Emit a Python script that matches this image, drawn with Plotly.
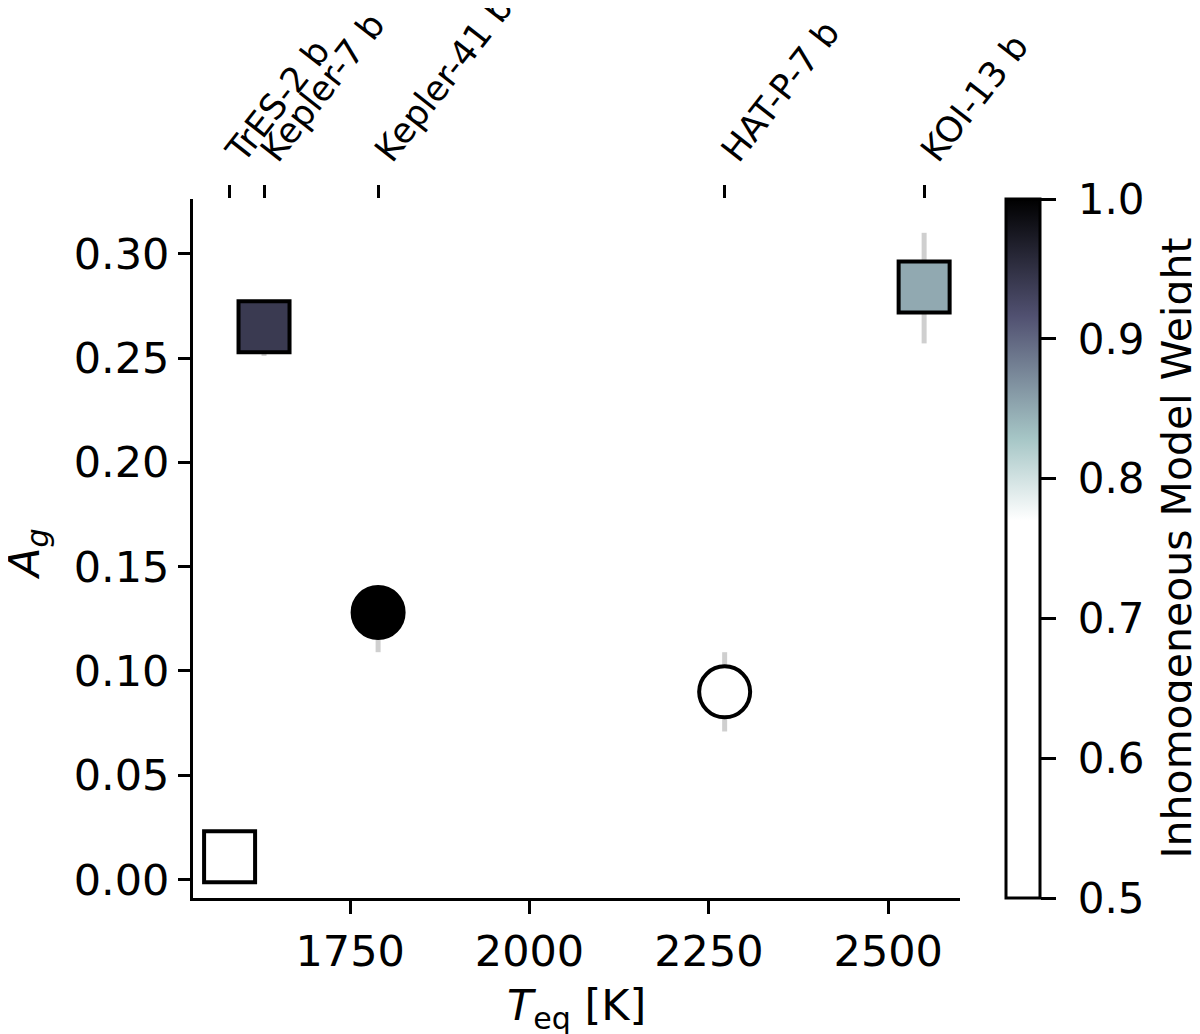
import plotly.graph_objects as go

planets = ["TrES-2 b", "Kepler-7 b", "Kepler-41 b", "HAT-P-7 b", "KOI-13 b"]
teq = [1582, 1630, 1789, 2272, 2550]
ag = [0.011, 0.265, 0.128, 0.090, 0.284]
ag_err_plus = [0.003, 0.010, 0.010, 0.019, 0.026]
ag_err_minus = [0.003, 0.014, 0.019, 0.019, 0.027]
weight = [0.50, 0.94, 1.00, 0.50, 0.85]
symbols = ["square", "square", "circle", "circle", "square"]

x_ticks = [1750, 2000, 2250, 2500]
y_ticks = [0.00, 0.05, 0.10, 0.15, 0.20, 0.25, 0.30]
cb_ticks = [0.5, 0.6, 0.7, 0.8, 0.9, 1.0]
cb_title = "Inhomogeneous Model Weight"
y_title = "<i>A</i><sub><i>g</i></sub>"
x_title = "<i>T</i><sub>eq</sub> [K]"

# bone_r colormap, white below ~0.77
colorscale = [
    [0.0, "rgb(255,255,255)"],
    [0.54, "rgb(255,255,255)"],
    [0.657, "rgb(166,198,198)"],
    [0.832, "rgb(81,81,113)"],
    [1.0, "rgb(0,0,0)"],
]

FONT = "DejaVu Sans"
OFF = 8  # page body margin
W, H = 1200 - OFF, 1034 - OFF
L, R, T, B = 193 - OFF, 960 - OFF, 199 - OFF, 898 - OFF
PW = R - L
PH = B - T

fig = go.Figure()

# error bars (behind)
fig.add_trace(go.Scatter(
    x=teq, y=ag, mode="markers",
    marker=dict(size=1, opacity=0),
    error_y=dict(type="data", symmetric=False, array=ag_err_plus,
                 arrayminus=ag_err_minus, color="#cfcfcf", thickness=5, width=0),
    hoverinfo="skip", showlegend=False,
))

# markers
fig.add_trace(go.Scatter(
    x=teq, y=ag, mode="markers", text=planets,
    marker=dict(
        size=51, symbol=symbols, color=weight, colorscale=colorscale,
        cmin=0.5, cmax=1.0, line=dict(color="black", width=4),
        colorbar=dict(
            x=(1006 - OFF - L) / PW, xanchor="left", xref="paper",
            y=0.5, yanchor="middle", len=1.0, lenmode="fraction",
            thickness=34, thicknessmode="pixels", xpad=0, ypad=0,
            outlinecolor="black", outlinewidth=3,
            tickvals=cb_ticks, ticktext=["\u00a0" + f"{v:.1f}" for v in cb_ticks],
            ticks="outside", ticklen=15, tickwidth=3, tickcolor="black",
            tickfont=dict(family=FONT, size=42, color="black"),
        ),
    ),
    showlegend=False,
))

# hidden trace for the top axis
fig.add_trace(go.Scatter(
    x=teq, y=ag, xaxis="x2", mode="markers",
    marker=dict(size=1, opacity=0), hoverinfo="skip", showlegend=False,
))

xr = [1531, 2600]
yr = [-0.0088, 0.3262]

fig.update_layout(
    width=W, height=H,
    margin=dict(l=L, r=W - R, t=T, b=H - B, autoexpand=False),
    paper_bgcolor="white", plot_bgcolor="white",
    font=dict(family=FONT, color="black"),
    xaxis=dict(
        range=xr, tickvals=x_ticks, ticktext=[str(v) for v in x_ticks],
        showgrid=False, zeroline=False, showline=True, linecolor="black",
        linewidth=3, ticks="outside", ticklen=13, tickwidth=3, tickcolor="black",
        tickfont=dict(family=FONT, size=43), automargin=False,
    ),
    xaxis2=dict(
        range=xr, overlaying="x", side="top", anchor="y",
        tickvals=teq, ticktext=planets, tickangle=-52,
        showgrid=False, zeroline=False, showline=False, automargin=False,
        ticks="outside", ticklen=13, tickwidth=3, tickcolor="black",
        tickfont=dict(family=FONT, size=35),
    ),
    yaxis=dict(
        range=yr, tickvals=y_ticks, ticktext=[f"{v:.2f}" for v in y_ticks],
        showgrid=False, zeroline=False, showline=True, linecolor="black",
        linewidth=3, ticks="outside", ticklen=12, tickwidth=3, tickcolor="black",
        tickfont=dict(family=FONT, size=43), automargin=False,
    ),
    annotations=[
        dict(text=cb_title, xref="paper", yref="paper",
             x=(1176 - OFF - L) / PW, y=0.5, xanchor="center", yanchor="middle",
             textangle=-90, showarrow=False,
             font=dict(family=FONT, size=41, color="black")),
        dict(text=y_title, xref="paper", yref="paper",
             x=(27 - OFF - L) / PW, y=(B - (554 - OFF)) / PH,
             xanchor="center", yanchor="middle",
             textangle=-90, showarrow=False,
             font=dict(family=FONT, size=43, color="black")),
        dict(text=x_title, xref="paper", yref="paper",
             x=(576 - OFF - L) / PW, y=(B - (1008 - OFF)) / PH,
             xanchor="center", yanchor="middle", showarrow=False,
             font=dict(family=FONT, size=43, color="black")),
    ],
)

fig.write_html("out.html")
